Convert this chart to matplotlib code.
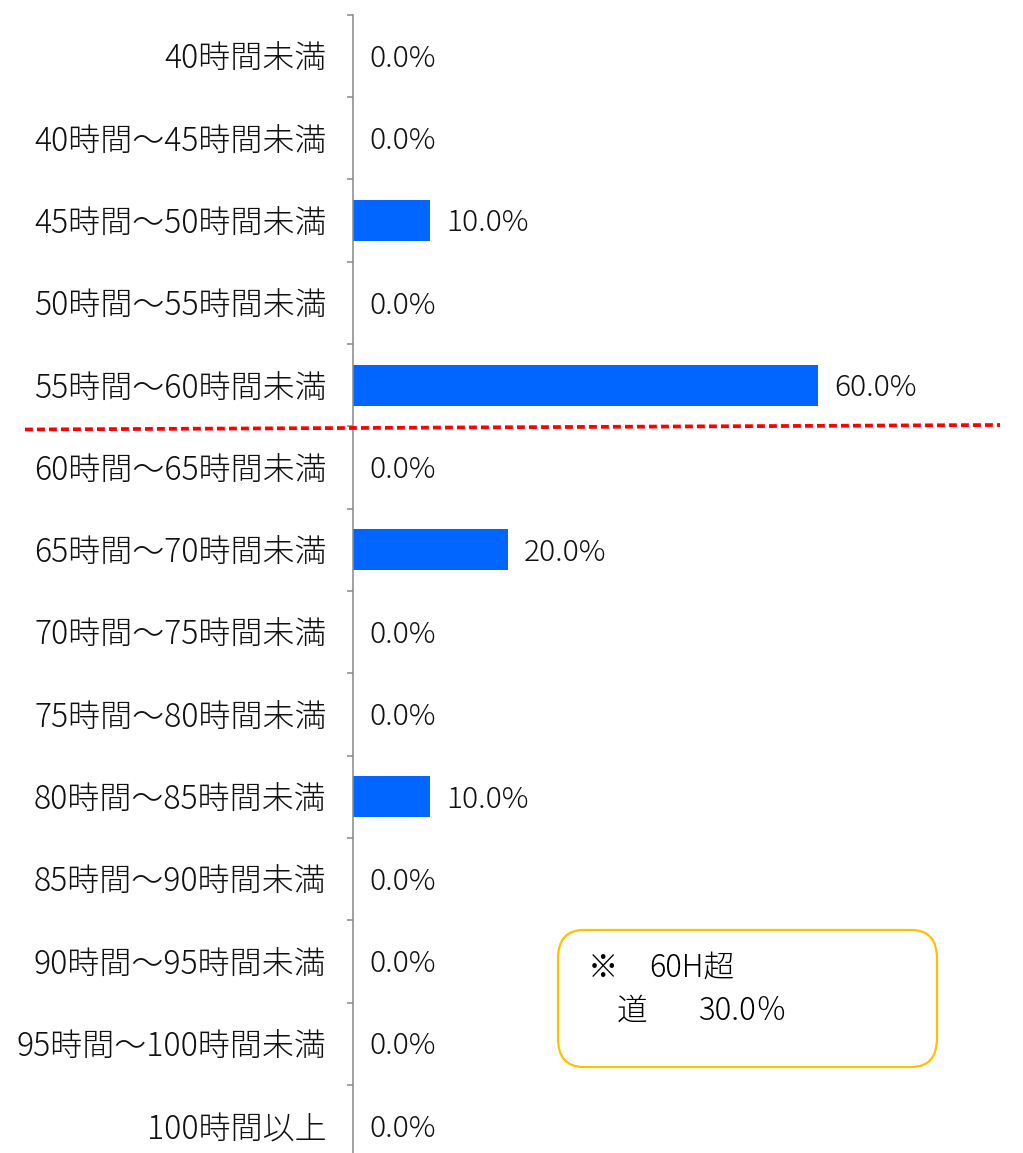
import matplotlib
matplotlib.use("Agg")
import matplotlib.pyplot as plt
from matplotlib.patches import FancyBboxPatch
from matplotlib.lines import Line2D
import numpy as np

plt.rcParams['font.family'] = ['Noto Sans CJK JP', 'DejaVu Sans']

categories = ["40時間未満", "40時間～45時間未満", "45時間～50時間未満", "50時間～55時間未満",
              "55時間～60時間未満", "60時間～65時間未満", "65時間～70時間未満", "70時間～75時間未満",
              "75時間～80時間未満", "80時間～85時間未満", "85時間～90時間未満", "90時間～95時間未満",
              "95時間～100時間未満", "100時間以上"]
values = [0.0, 0.0, 10.0, 0.0, 60.0, 0.0, 20.0, 0.0, 0.0, 10.0, 0.0, 0.0, 0.0, 0.0]
value_labels = [f"{v:.1f}%" for v in values]
note_mark = "※"
note_title = "60H超"
note_region = "道"
note_value = "30.0％"

W, H = 1023, 1153
fig = plt.figure(figsize=(W / 100, H / 100), dpi=100)
top = 1 - 14.85 / H
bottom = 1 - 1167.2 / H
ax = fig.add_axes([353 / W, bottom, (1000 - 353) / W, top - bottom])

y = np.arange(len(categories))
ax.barh(y, values, height=0.5, color="#0066FF", zorder=2)
ax.set_ylim(len(categories) - 0.5, -0.5)
ax.set_xlim(0, 83.5)

for yi, v, lab in zip(y, values, value_labels):
    ax.annotate(lab, xy=(v, yi), xytext=(11.5, -1.8), textcoords="offset points",
                ha="left", va="center", fontsize=21.5, color="#111111", fontweight="light")

ax.set_yticks(y)
ax.set_yticklabels(categories, fontsize=23, color="#111111", fontweight="light")
ax.tick_params(axis="y", which="major", length=0, pad=19)
ax.set_yticks(np.arange(-0.5, len(categories), 1.0), minor=True)
ax.tick_params(axis="y", which="minor", length=4.5, width=1.1, color="#888888", direction="out")
ax.set_xticks([])
for s in ["top", "right", "bottom"]:
    ax.spines[s].set_visible(False)
ax.spines["left"].set_color("#888888")
ax.spines["left"].set_linewidth(1.1)
ax.set_facecolor("none")

# red dashed separator (slightly slanted, as in reference)
line = Line2D([25 / W, 1000 / W], [1 - 429.5 / H, 1 - 425 / H], transform=fig.transFigure,
              color="#FF0000", linewidth=2.7, linestyle=(0, (2.1, 1.1)), zorder=5)
fig.add_artist(line)

# note box
box = FancyBboxPatch((558 / W, 1 - 1067 / H), (937 - 558) / W, (1067 - 930) / H,
                     boxstyle="round,pad=0,rounding_size=0.025", transform=fig.transFigure,
                     facecolor="white", edgecolor="#FFC000", linewidth=1.6, zorder=6)
fig.add_artist(box)
fig.text(588 / W, 1 - 968 / H, note_mark, fontsize=22, va="center", ha="left", zorder=7, fontweight="light")
fig.text(649 / W, 1 - 968 / H, note_title, fontsize=22, va="center", ha="left", zorder=7, fontweight="light")
fig.text(617 / W, 1 - 1011 / H, note_region, fontsize=22, va="center", ha="left", zorder=7, fontweight="light")
fig.text(698 / W, 1 - 1011 / H, note_value, fontsize=22.5, va="center", ha="left", zorder=7, fontweight="light")

fig.savefig("out.png", dpi=100, facecolor="white")
